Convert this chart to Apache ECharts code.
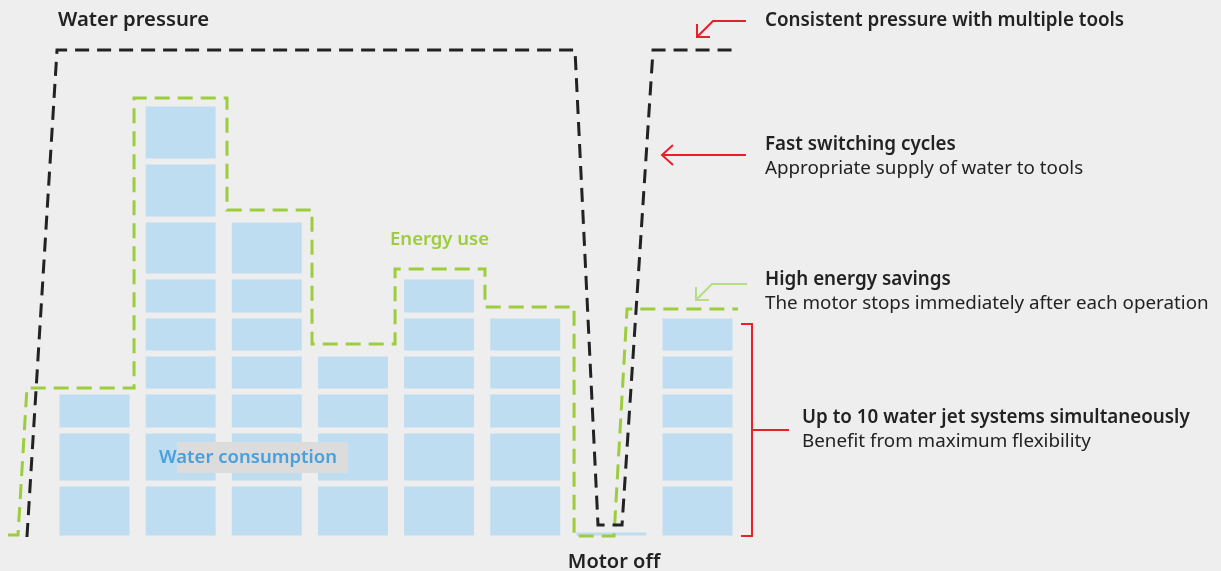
<!DOCTYPE html>
<html>
<head>
<meta charset="utf-8">
<script src="https://cdn.jsdelivr.net/npm/echarts@6/dist/echarts.min.js"></script>
<style>
  html, body { margin: 0; padding: 0; background: #eeeeee; }
  #chart { width: 1221px; height: 571px; }
</style>
</head>
<body>
<div id="chart"></div>
<script>
// ---- data ----
// time slots (one per tool cycle)
const slots = ['1', '2', '3', '4', '5', '6', '7', '8'];
// height of each stacked water-consumption block, bottom to top
const blockHeights = [11, 10.6, 7.8, 7.6, 7.6, 7.8, 11.4, 11.6, 11.6];
// number of blocks per slot (water jet systems running)
const blocksPerSlot = [3, 9, 7, 4, 6, 5, 0, 5];
// residual consumption while the motor is off
const residual = ['-', '-', '-', '-', '-', '-', 1.8, '-'];
// water pressure (dashed black), x in slot units (slot centres at 0..7), y in %
const pressureX = [-0.784, -0.435, 5.578, 5.845, 6.124, 6.484, 7.436];
const pressureY = [0.3, 97.7, 97.7, 2.7, 2.7, 97.7, 97.7];
// energy use (dashed green)
const energyX = [-1.004, -0.888, -0.784, 0.459, 0.459, 1.538, 1.538, 2.525, 2.525, 3.489, 3.489, 4.533, 4.533, 5.567, 5.567, 6.031, 6.182, 7.47];
const energyY = [0.7, 0.7, 30.1, 30.1, 88.1, 88.1, 65.7, 65.7, 38.9, 38.9, 53.9, 53.9, 46.3, 46.3, 0.5, 0.5, 45.9, 45.9];

const BG = '#eeeeee';
const BLUE = '#bfddf0';
const GREEN = '#9dcc3c';
const LIGHTGREEN = '#b6dc88';
const RED = '#e8202a';
const DARK = '#222222';
const FONT = '"Noto Sans", sans-serif';

const series = [];
blockHeights.forEach((h, k) => {
  series.push({
    type: 'bar', stack: 'water', xAxisIndex: 0, yAxisIndex: 0,
    barWidth: 76, z: 2,
    itemStyle: { color: BLUE, borderColor: BG, borderWidth: 3 },
    data: blocksPerSlot.map(n => (n > k ? h : '-'))
  });
});
series.push({
  type: 'bar', stack: 'water', xAxisIndex: 0, yAxisIndex: 0,
  barWidth: 76, z: 2,
  itemStyle: { color: BLUE, borderColor: BG, borderWidth: 3 },
  data: residual
});
series.push({
  type: 'line', xAxisIndex: 1, yAxisIndex: 1, clip: false, symbol: 'none', z: 5,
  lineStyle: { color: GREEN, width: 3, type: [15, 8], join: 'miter', cap: 'butt' },
  data: energyX.map((x, i) => [x, energyY[i]])
});
series.push({
  type: 'line', xAxisIndex: 1, yAxisIndex: 1, clip: false, symbol: 'none', z: 6,
  lineStyle: { color: DARK, width: 3, type: [14, 8], join: 'miter', cap: 'butt' },
  data: pressureX.map((x, i) => [x, pressureY[i]])
});

function bold(size) { return '600 ' + size + 'px ' + FONT; }
function reg(size) { return '400 ' + size + 'px ' + FONT; }
function label(x, y, s, font, fill, align) {
  return { type: 'text', z: 60, style: { x: x, y: y, text: s, fill: fill || DARK, font: font, align: align || 'left', verticalAlign: 'middle' } };
}
function line(points, color) {
  return { type: 'polyline', z: 50, shape: { points: points },
    style: { stroke: color, lineWidth: 2, fill: null } };
}

const graphic = [
  { type: 'rect', z: 40, shape: { x: 177, y: 442, width: 171, height: 31 }, style: { fill: '#dcdcdd' } },
  label(159, 458, 'Water consumption', bold(18.5), '#4aa0da'),
  label(58, 20, 'Water pressure', bold(20.3)),
  label(390, 240, 'Energy use', bold(18.5), GREEN),
  label(614, 562, 'Motor off', bold(20), DARK, 'center'),

  label(765, 21, 'Consistent pressure with multiple tools', bold(18.8)),
  label(765, 145, 'Fast switching cycles', bold(18.8)),
  label(765, 169, 'Appropriate supply of water to tools', reg(18.8)),
  label(765, 280, 'High energy savings', bold(18.8)),
  label(765, 304, 'The motor stops immediately after each operation', reg(18.8)),
  label(802, 418, 'Up to 10 water jet systems simultaneously', bold(18.8)),
  label(802, 442, 'Benefit from maximum flexibility', reg(18.8)),

  line([[746, 21], [713, 21], [697, 37]], RED),
  line([[697, 24], [697, 37], [710, 37]], RED),
  line([[746, 155], [662, 155]], RED),
  line([[673, 145], [662, 155], [673, 165]], RED),
  line([[747, 284], [712, 284], [696, 300]], LIGHTGREEN),
  line([[696, 287], [696, 300], [709, 300]], LIGHTGREEN),
  line([[741, 324], [752, 324], [752, 536], [741, 536]], RED),
  line([[752, 430], [789, 430]], RED)
];

const chart = echarts.init(document.getElementById('chart'), null, { renderer: 'canvas' });
chart.setOption({
  animation: false,
  backgroundColor: BG,
  grid: [
    { left: 51.43, right: 480.43, top: 38.5, bottom: 32.5, containLabel: false },
    { left: 0, right: 480.43, top: 38.5, bottom: 32.5, containLabel: false }
  ],
  xAxis: [
    { type: 'category', gridIndex: 0, data: slots, show: false, boundaryGap: true },
    { type: 'value', gridIndex: 1, min: -1.097, max: 7.5, show: false }
  ],
  yAxis: [
    { type: 'value', gridIndex: 0, min: 0, max: 100, show: false },
    { type: 'value', gridIndex: 1, min: 0, max: 100, show: false }
  ],
  series: series,
  graphic: graphic
});
</script>
</body>
</html>
